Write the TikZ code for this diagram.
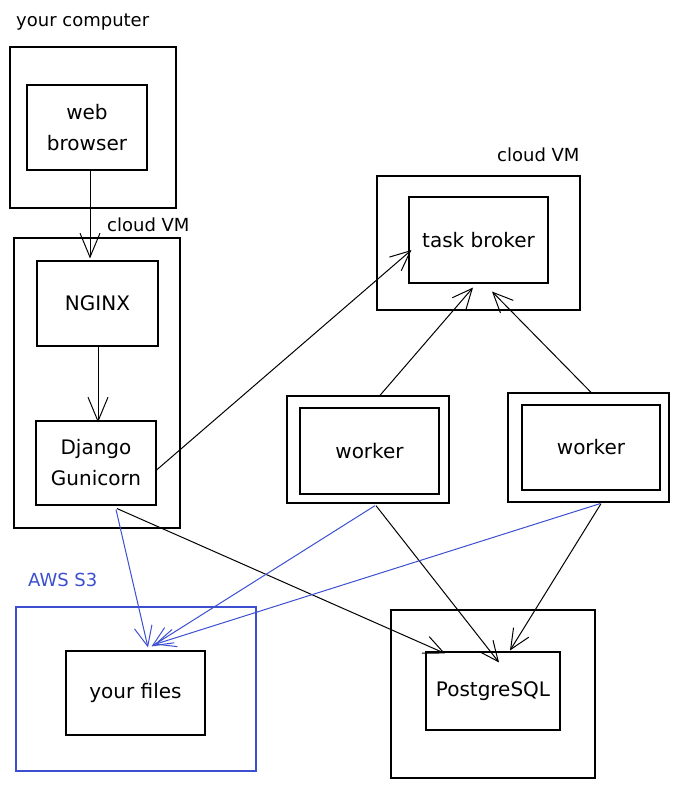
\documentclass[tikz,border=0pt]{standalone}
\usepackage{fontspec}
\setmainfont{DejaVu Sans}
\usetikzlibrary{arrows.meta}
\definecolor{exblue}{HTML}{3B4FD0}
\begin{document}
\begin{tikzpicture}[x=1pt,y=-1pt,
  obox/.style={draw, line width=1.3pt, inner sep=0pt},
  ibox/.style={draw, line width=1.1pt, inner sep=0pt, align=center, font=\fontsize{20}{31}\selectfont},
  lbl/.style={anchor=west, inner sep=0pt, font=\fontsize{18}{22}\selectfont},
  arr/.style={line width=1pt, -{Straight Barb[length=24pt,width=20pt,line width=1pt]}},
  sarr/.style={line width=1pt, -{Straight Barb[length=20pt,width=18pt,line width=1pt]}},
  blu/.style={exblue}
]
\useasboundingbox (0,0) rectangle (679,790);
% labels
\node[lbl] (lcomp) at (16,22) {your computer};
\node[lbl] (lvm1) at (107,225) {cloud VM};
\node[lbl] (lvm2) at (497,155) {cloud VM};
\node[lbl, exblue] (ls3) at (28,580) {AWS S3};
% boxes
\node[obox, minimum width=166pt, minimum height=161pt] (comp) at (93,127.5) {};
\node[ibox, minimum width=120pt, minimum height=85pt] (browser) at (87,127.5) {web\\browser};
\node[obox, minimum width=166pt, minimum height=290pt] (vm) at (97,383) {};
\node[ibox, minimum width=121pt, minimum height=85pt] (nginx) at (97.5,303.5) {NGINX};
\node[ibox, minimum width=120pt, minimum height=84pt] (django) at (96,463) {Django\\Gunicorn};
\node[obox, minimum width=203pt, minimum height=134pt] (bvm) at (478.5,243) {};
\node[ibox, minimum width=139pt, minimum height=86pt] (broker) at (478.5,240) {task broker};
\node[obox, minimum width=162pt, minimum height=107pt] (w1o) at (368,449.5) {};
\node[ibox, minimum width=139pt, minimum height=86pt] (w1) at (369.5,451) {worker};
\node[obox, minimum width=161pt, minimum height=109pt] (w2o) at (588.5,447.5) {};
\node[ibox, minimum width=138pt, minimum height=85pt] (w2) at (591,447.5) {worker};
\node[obox, exblue, line width=1.1pt, minimum width=240pt, minimum height=164pt] (s3) at (136,689) {};
\node[ibox, minimum width=139pt, minimum height=84pt] (files) at (135.5,693) {your files};
\node[obox, minimum width=204pt, minimum height=168pt] (pgo) at (493,694) {};
\node[ibox, minimum width=134pt, minimum height=78pt] (pg) at (493,691) {PostgreSQL};
% connectors
\draw[arr] ([xshift=3pt]browser.south) -- ([xshift=-7.5pt,yshift=2pt]nginx.north);
\draw[arr] ([xshift=0.5pt]nginx.south) -- ([xshift=2pt,yshift=-2pt]django.north);
\draw[sarr] ([yshift=-7pt]django.east) -- ([xshift=3pt,yshift=-10pt]broker.west);
\draw[sarr] ([xshift=12pt]w1o.north) -- ([xshift=-5.5pt,yshift=-4pt]broker.south);
\draw[sarr] ([xshift=2.5pt]w2o.north) -- ([xshift=13.5pt,yshift=-8pt]broker.south);
\draw[sarr, blu] ([xshift=20pt,yshift=-4pt]django.south) -- ([xshift=12.5pt,yshift=3pt]files.north);
\draw[sarr] ([xshift=21pt,yshift=-3pt]django.south) -- ([xshift=-48pt,yshift=-2pt]pg.north);
\draw[sarr, blu] ([xshift=7pt,yshift=-2pt]w1o.south) -- ([xshift=16pt,yshift=4pt]files.north);
\draw[sarr] ([xshift=8pt,yshift=-2pt]w1o.south) -- ([xshift=6pt,yshift=-11pt]pg.north);
\draw[sarr, blu] ([xshift=11.5pt,yshift=-1pt]w2o.south) -- ([xshift=19pt,yshift=6pt]files.north);
\draw[sarr] ([xshift=12.5pt,yshift=-1pt]w2o.south) -- ([xshift=17pt,yshift=1pt]pg.north);
\end{tikzpicture}
\end{document}
